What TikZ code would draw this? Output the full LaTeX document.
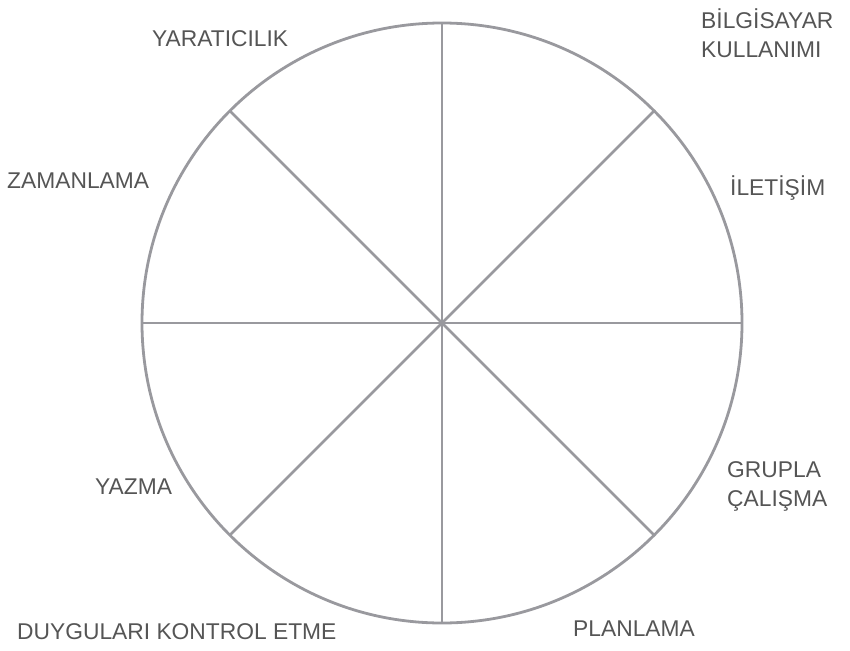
\documentclass[tikz,border=0pt]{standalone}
\usepackage{fontspec}
\setmainfont{Liberation Sans}
\definecolor{spokegray}{RGB}{153,153,158}
\definecolor{labelgray}{RGB}{85,85,85}
\tikzset{
  label/.style={text=labelgray, font=\fontsize{22.8}{29}\selectfont, inner sep=0pt, align=left},
  spoke/.style={draw=spokegray, line width=2.8pt}
}
\begin{document}
\begin{tikzpicture}[x=1pt,y=-1pt]
\useasboundingbox (0,0) rectangle (850,650);
\node[circle, spoke, minimum size=600pt, inner sep=0pt, outer sep=0pt] (wheel) at (442,323) {};

\draw[spoke] (wheel.north) -- (wheel.south);
\draw[spoke] (wheel.west) -- (wheel.east);
\draw[spoke] (wheel.45) -- (wheel.225);
\draw[spoke] (wheel.135) -- (wheel.315);

\node[label, anchor=west] (bilgi) at (701,33) {BİLGİSAYAR\\KULLANIMI};
\node[label, anchor=west] (yarat) at (152,39) {YARATICILIK};
\node[label, anchor=west] (zaman) at (7,181) {ZAMANLAMA};
\node[label, anchor=west] (ileti) at (730,188) {İLETİŞİM};
\node[label, anchor=west] (grup) at (727,486) {GRUPLA\\ÇALIŞMA};
\node[label, anchor=west] (yazma) at (95,487) {YAZMA};
\node[label, anchor=west] (duygu) at (17,632) {DUYGULARI KONTROL ETME};
\node[label, anchor=west] (plan) at (573,629) {PLANLAMA};
\end{tikzpicture}
\end{document}
